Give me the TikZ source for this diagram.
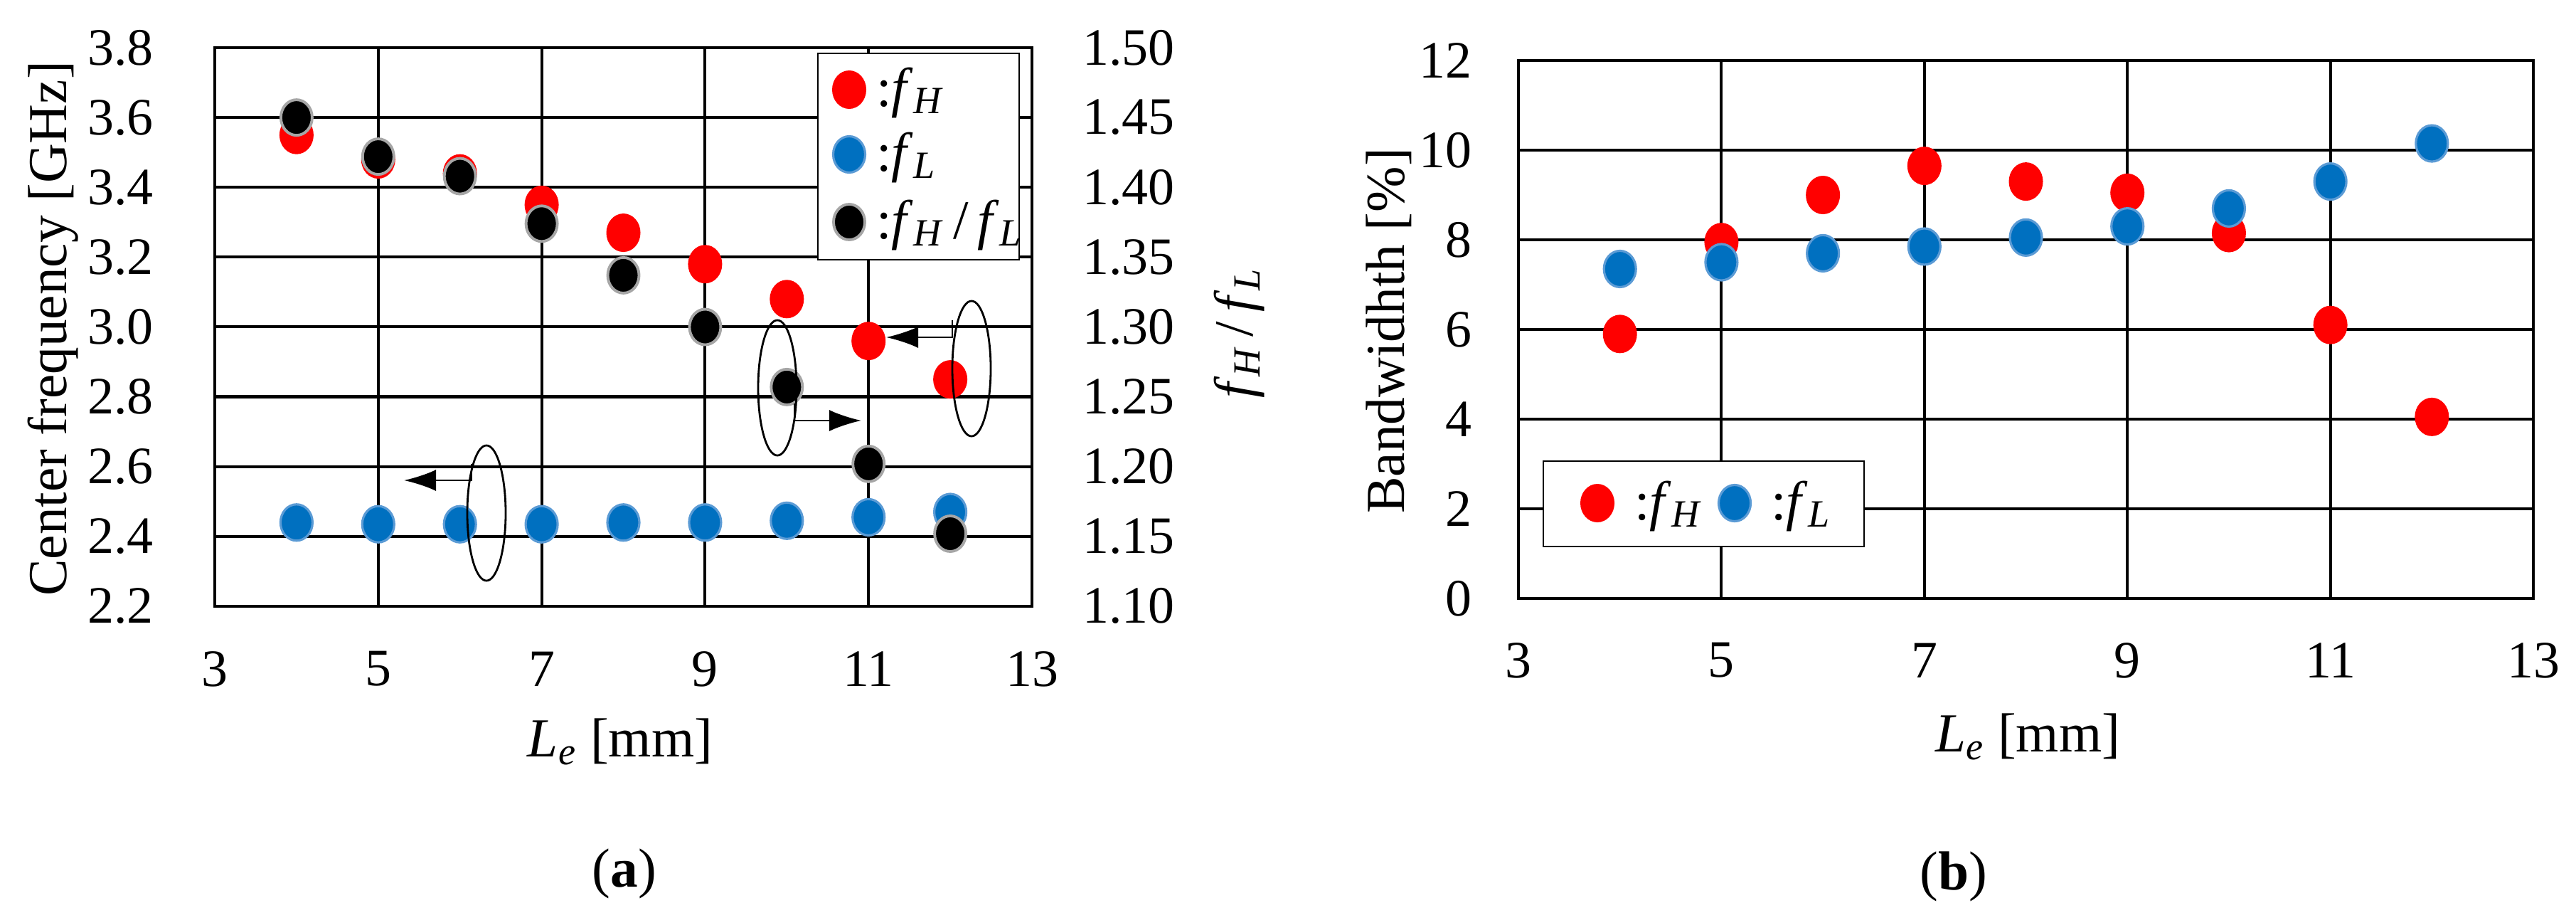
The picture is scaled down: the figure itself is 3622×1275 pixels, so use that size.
\documentclass[tikz,border=0pt]{standalone}
\usepackage{fontspec}
\setmainfont{Liberation Serif}
\usetikzlibrary{arrows.meta,shapes.geometric}
\definecolor{mblue}{RGB}{0,112,192}
\definecolor{mblueedge}{RGB}{91,155,213}
\definecolor{mgray}{RGB}{166,166,166}
\newcommand\myfH{\textit{f}\textsubscript{\textit{H}}}
\newcommand\myfL{\textit{f}\textsubscript{\textit{L}}}
\begin{document}
\begin{tikzpicture}[x=0.01cm,y=-0.01cm,
  every node/.style={font=\fontsize{21}{24}\selectfont},
  big/.style={font=\fontsize{22}{26}\selectfont},
  grid/.style={line width=1.15pt},
  hpt/.style={ellipse,fill=red,inner sep=0,minimum width=0.48cm,minimum height=0.54cm},
  lpt/.style={ellipse,fill=mblue,draw=mblueedge,line width=0.9pt,inner sep=0,minimum width=0.45cm,minimum height=0.51cm},
  rpt/.style={ellipse,fill=black,draw=mgray,line width=1.1pt,inner sep=0,minimum width=0.44cm,minimum height=0.5cm},
  loop/.style={ellipse,draw,line width=0.8pt,inner sep=0,minimum width=0.54cm,minimum height=1.9cm},
  arr/.style={line width=0.8pt,-{Latex[length=0.45cm,width=0.3cm]}},
  lgd/.style={draw,fill=white,line width=0.8pt}]
\useasboundingbox (0,0) rectangle (3622,1275);
% ---------- (a) ----------
\foreach \i in {0,...,8} \draw[grid] (302,{67+\i*98.1}) -- (1451,{67+\i*98.1});
\foreach \i in {0,...,5} \draw[grid] ({302+\i*229.8},67) -- ({302+\i*229.8},852);
\draw[grid] (302,67) rectangle (1451,852);
\foreach \v [count=\i from 0] in {3.8,3.6,3.4,3.2,3.0,2.8,2.6,2.4,2.2}
  \node[anchor=east] (ytl\i) at (228,{67+\i*98.1}) {\v};
\foreach \v [count=\i from 0] in {1.50,1.45,1.40,1.35,1.30,1.25,1.20,1.15,1.10}
  \node[anchor=west] (ytr\i) at (1510,{67+\i*98.1}) {\v};
\foreach \v [count=\i from 0] in {3,5,7,9,11,13}
  \node (xta\i) at ({302+\i*229.8},940) {\v};
\node[big] (xla) at (872,1042) {\textit{L}\textsubscript{\textit{e}} [mm]};
\node[big] (capa) at (878,1228) {(\textbf{a})};
\node[big,rotate=90] (yla) at (75,462) {Center frequency [GHz]};
\node[big,rotate=90] (yra) at (1742,468) {\myfH\,/\,\myfL};
\foreach \L/\f in {4/3.55,5/3.48,6/3.44,7/3.35,8/3.27,9/3.18,10/3.08,11/2.96,12/2.85}
  \node[hpt] (aH\L) at ({302+(\L-3)*114.9},{852-(\f-2.2)*490.6}) {};
\foreach \L/\f in {4/2.44,5/2.435,6/2.435,7/2.435,8/2.44,9/2.44,10/2.445,11/2.455,12/2.47}
  \node[lpt] (aL\L) at ({302+(\L-3)*114.9},{852-(\f-2.2)*490.6}) {};
\foreach \L/\r in {4/1.450,5/1.422,6/1.408,7/1.374,8/1.337,9/1.300,10/1.257,11/1.202,12/1.152}
  \node[rpt] (aR\L) at ({302+(\L-3)*114.9},{852-(\r-1.1)*1962.5}) {};
\node[loop] (lp1) at (684,721) {};
\coordinate (s1) at (663,652);
\coordinate (t1) at (568,675);
\draw[arr] (s1) |- (t1);
\node[loop] (lp2) at (1093,545) {};
\coordinate (s2) at (1117,567);
\coordinate (t2) at (1211,591);
\draw[arr] (s2) |- (t2);
\node[loop] (lp3) at (1366,518) {};
\coordinate (s3) at (1339,450);
\coordinate (t3) at (1246,474);
\draw[arr] (s3) |- (t3);
\draw[lgd] (1150,75) rectangle (1433,365);
\node[hpt] (lgaH) at (1194,126) {};
\node[big,anchor=west] (lgaHt) at (1220,130) {:\myfH};
\node[lpt] (lgaL) at (1194,217) {};
\node[big,anchor=west] (lgaLt) at (1220,221) {:\myfL};
\node[rpt] (lgaR) at (1194,312) {};
\node[big,anchor=west] (lgaRt) at (1220,316) {:\myfH\,/\,\myfL};
% ---------- (b) ----------
\foreach \i in {0,...,6} \draw[grid] (2135,{85+\i*126}) -- (3562,{85+\i*126});
\foreach \i in {0,...,5} \draw[grid] ({2135+\i*285.4},85) -- ({2135+\i*285.4},841);
\draw[grid] (2135,85) rectangle (3562,841);
\foreach \v [count=\i from 0] in {12,10,8,6,4,2,0}
  \node[anchor=east] (ytb\i) at (2082,{85+\i*126}) {\v};
\foreach \v [count=\i from 0] in {3,5,7,9,11,13}
  \node (xtb\i) at ({2135+\i*285.4},928) {\v};
\node[big] (xlb) at (2851,1035) {\textit{L}\textsubscript{\textit{e}} [mm]};
\node[big] (capb) at (2747,1232) {(\textbf{b})};
\node[big,rotate=90] (ylb) at (1953,465) {Bandwidhth [\%]};
\foreach \L/\b in {4/5.9,5/7.95,6/9.0,7/9.65,8/9.3,9/9.05,10/8.15,11/6.1,12/4.05}
  \node[hpt] (bH\L) at ({2135+(\L-3)*142.7},{841-\b*63}) {};
\foreach \L/\b in {4/7.35,5/7.5,6/7.7,7/7.85,8/8.05,9/8.3,10/8.7,11/9.3,12/10.15}
  \node[lpt] (bL\L) at ({2135+(\L-3)*142.7},{841-\b*63}) {};
\draw[lgd] (2170,648) rectangle (2621,768);
\node[hpt] (lgbH) at (2246,707) {};
\node[big,anchor=west] (lgbHt) at (2286,711) {:\myfH};
\node[lpt] (lgbL) at (2439,707) {};
\node[big,anchor=west] (lgbLt) at (2478,711) {:\myfL};
\end{tikzpicture}
\end{document}
